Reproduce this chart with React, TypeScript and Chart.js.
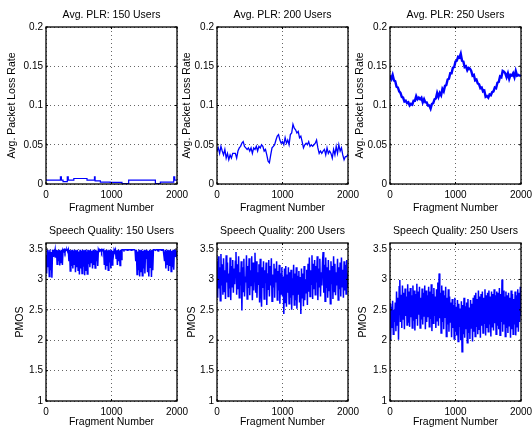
import React, { useEffect, useRef } from 'react';
import { Chart, registerables } from 'chart.js';

Chart.register(...registerables);

// ---------- data ----------
const fragTicks = [0, 1000, 2000];
const plrTicks = [0, 0.05, 0.1, 0.15, 0.2];
const pmosTicks = [1, 1.5, 2, 2.5, 3, 3.5];

const PLR_STEP = 20;
const PMOS_STEP = 10;

const plr150Frag = [0, 220, 235, 260, 325, 340, 425, 626, 740, 750, 830, 980, 1160, 1262, 1670, 1746, 1950, 1965, 2000];
const plr150Val = [0.005, 0.009, 0.005, 0.003, 0.009, 0.005, 0.007, 0.005, 0.009, 0.004, 0.0025, 0.002, 0.0005, 0.005, 0.0005, 0.0025, 0.009, 0.005, 0.005];

const plr200Val = [
  0.042, 0.046, 0.039, 0.048, 0.042, 0.037, 0.044, 0.033, 0.039, 0.031,
  0.037, 0.033, 0.039, 0.039, 0.039, 0.033, 0.042, 0.046, 0.048, 0.052,
  0.054, 0.048, 0.046, 0.044, 0.046, 0.042, 0.046, 0.039, 0.046, 0.044,
  0.048, 0.042, 0.048, 0.046, 0.050, 0.048, 0.042, 0.044, 0.037, 0.029,
  0.027, 0.037, 0.046, 0.048, 0.050, 0.056, 0.061, 0.063, 0.056, 0.052,
  0.054, 0.050, 0.059, 0.052, 0.056, 0.050, 0.063, 0.065, 0.076, 0.071,
  0.069, 0.065, 0.067, 0.059, 0.061, 0.054, 0.046, 0.050, 0.052, 0.050,
  0.054, 0.048, 0.050, 0.048, 0.050, 0.052, 0.056, 0.046, 0.039, 0.042,
  0.039, 0.042, 0.044, 0.037, 0.046, 0.039, 0.042, 0.039, 0.033, 0.044,
  0.037, 0.048, 0.039, 0.050, 0.042, 0.046, 0.037, 0.031, 0.035, 0.035,
  0.038,
];

const plr250Val = [
  0.138, 0.134, 0.139, 0.132, 0.131, 0.124, 0.123, 0.118, 0.116, 0.111,
  0.110, 0.105, 0.106, 0.103, 0.104, 0.100, 0.102, 0.101, 0.106, 0.106,
  0.112, 0.108, 0.110, 0.108, 0.110, 0.104, 0.108, 0.104, 0.104, 0.100,
  0.100, 0.096, 0.102, 0.103, 0.108, 0.109, 0.116, 0.111, 0.116, 0.113,
  0.121, 0.118, 0.125, 0.126, 0.133, 0.134, 0.141, 0.141, 0.148, 0.149,
  0.156, 0.157, 0.162, 0.161, 0.166, 0.157, 0.156, 0.149, 0.150, 0.145,
  0.148, 0.147, 0.144, 0.138, 0.139, 0.132, 0.133, 0.128, 0.127, 0.122,
  0.123, 0.118, 0.119, 0.111, 0.112, 0.110, 0.114, 0.113, 0.117, 0.118,
  0.123, 0.122, 0.129, 0.130, 0.137, 0.136, 0.144, 0.143, 0.141, 0.136,
  0.141, 0.134, 0.139, 0.138, 0.141, 0.136, 0.144, 0.138, 0.139, 0.138,
  0.138,
];

const pmos150Val = [
  3.40, 3.10, 3.49, 3.20, 3.46, 3.05, 3.49, 3.15, 3.45, 3.03, 3.49,
  3.38, 3.49, 3.42, 3.49, 3.36, 3.49,
  3.25, 3.48, 3.30, 3.49, 3.23, 3.47, 3.28, 3.49, 3.24, 3.49,
  3.47, 3.49, 3.45, 3.49, 3.48, 3.49, 3.46, 3.49,
  3.30, 3.49, 3.14, 3.48, 3.22, 3.49, 3.18, 3.47, 3.25, 3.49, 3.12, 3.48, 3.20,
  3.49, 3.15, 3.46, 3.08, 3.49, 3.18, 3.47, 3.10, 3.49, 3.22, 3.48, 3.07, 3.49, 3.14, 3.46, 3.09, 3.49, 3.25,
  3.48, 3.20, 3.49, 3.28, 3.47, 3.18, 3.49, 3.24, 3.48, 3.19, 3.49, 3.30, 3.47, 3.22, 3.49,
  3.46, 3.49, 3.48, 3.49, 3.45, 3.49, 3.48, 3.49,
  3.25, 3.48, 3.16, 3.49, 3.22, 3.47, 3.15, 3.49, 3.28, 3.48, 3.18, 3.49, 3.24, 3.47, 3.40,
  3.49, 3.46, 3.49, 3.35,
  3.48, 3.24, 3.49, 3.30, 3.47, 3.23, 3.49, 3.33, 3.49,
  3.49, 3.49, 3.48, 3.49, 3.49, 3.49, 3.49, 3.48, 3.49, 3.49, 3.49, 3.49, 3.49, 3.48, 3.49, 3.49, 3.49, 3.49, 3.49, 3.48,
  3.30, 3.49, 3.08, 3.46, 3.15, 3.49, 3.05, 3.48, 3.12, 3.49, 3.06, 3.47, 3.18, 3.49, 3.10,
  3.48, 3.35, 3.49,
  3.12, 3.47, 3.05, 3.49, 3.20, 3.48, 3.04, 3.49, 3.15, 3.49,
  3.49, 3.49, 3.48, 3.49, 3.49, 3.49, 3.47, 3.49, 3.49, 3.49, 3.49, 3.48, 3.49, 3.49, 3.49, 3.49,
  3.30, 3.49, 3.18, 3.47, 3.25, 3.49, 3.14, 3.48, 3.22, 3.49, 3.13, 3.47, 3.20, 3.49, 3.16, 3.49,
  3.38, 3.49, 3.40, 3.46,
];

const pmos200Val = [
  3.30, 2.70, 3.38, 2.85, 3.20, 2.65, 3.42, 2.90, 3.25, 2.75,
  3.35, 2.80, 3.15, 2.68, 3.40, 2.95, 3.28, 2.72, 3.10, 2.85,
  3.36, 2.66, 3.22, 2.88, 3.32, 2.78, 3.18, 2.92, 3.30, 3.45,
  2.75, 3.25, 2.84, 3.38, 2.70, 3.12, 2.90, 3.30, 2.49, 3.20,
  2.80, 3.34, 2.72, 3.05, 2.95, 3.40, 2.68, 3.22, 2.86, 3.35,
  2.74, 3.15, 2.90, 3.38, 2.66, 3.28, 2.82, 3.18, 3.44, 2.78,
  3.30, 2.70, 3.12, 2.92, 3.25, 2.62, 3.34, 2.80, 2.55, 3.20,
  2.86, 3.30, 2.68, 3.15, 2.94, 3.28, 2.58, 3.10, 2.84, 3.32,
  2.72, 3.22, 2.90, 3.35, 2.64, 3.08, 2.88, 3.26, 2.70, 3.18,
  2.95, 3.30, 2.66, 3.14, 2.82, 3.24, 2.60, 3.10, 2.76, 3.20,
  2.72, 3.05, 2.43, 3.18, 2.62, 3.22, 2.55, 3.08, 2.78, 3.20,
  2.60, 3.12, 2.70, 3.16, 2.50, 3.02, 2.74, 3.24, 2.58, 3.10,
  2.66, 3.20, 2.52, 3.06, 2.76, 3.14, 2.62, 3.04, 2.43, 3.18,
  2.70, 3.10, 2.56, 3.22, 2.66, 3.00, 2.78, 3.16, 2.58, 3.26,
  2.80, 3.36, 2.72, 3.15, 2.92, 3.40, 2.68, 3.26, 2.84, 3.32,
  2.75, 3.22, 2.95, 3.38, 2.66, 3.18, 2.88, 3.34, 2.72, 3.12,
  2.90, 3.28, 3.45, 2.78, 3.24, 2.64, 3.36, 2.86, 3.20, 2.70,
  3.32, 2.82, 3.15, 2.60, 3.30, 2.92, 3.22, 2.68, 3.38, 2.80,
  3.26, 2.74, 3.12, 2.90, 3.34, 2.66, 3.20, 2.84, 3.28, 2.72,
  3.36, 2.88, 3.16, 2.70, 3.30, 2.82, 3.24, 2.76, 3.32, 2.86,
  3.10,
];

const pmos250Val = [
  2.60, 2.00, 2.55, 2.20, 2.65, 2.10, 2.50, 2.30, 2.62, 2.15,
  2.80, 2.25, 2.70, 2.01, 2.88, 2.99, 2.30, 2.75, 2.20, 2.90,
  2.35, 2.78, 2.18, 2.85, 2.40, 2.72, 2.25, 2.92, 2.30, 2.80,
  2.22, 2.86, 2.38, 2.74, 2.20, 2.90, 2.32, 2.82, 2.16, 2.76,
  2.36, 2.93, 2.24, 2.80, 2.42, 2.88, 2.20, 2.70, 2.34, 2.85,
  2.26, 2.78, 2.40, 2.90, 2.18, 2.82, 2.30, 2.74, 2.38, 2.88,
  2.22, 2.80, 2.35, 2.92, 2.15, 2.76, 2.28, 2.86, 2.40, 2.72,
  2.20, 2.84, 2.32, 2.95, 2.24, 3.10, 2.36, 2.78, 2.12, 2.90,
  2.30, 2.82, 2.18, 2.74, 2.38, 2.88, 2.06, 2.70, 2.26, 2.84,
  2.14, 2.72, 2.30, 2.62, 2.05, 2.68, 2.20, 2.58, 2.02, 2.70,
  2.15, 2.55, 2.08, 2.66, 1.98, 2.60, 2.22, 2.52, 2.00, 2.64,
  1.81, 2.58, 2.10, 2.70, 2.04, 2.56, 2.18, 2.62, 1.96, 2.68,
  2.12, 2.54, 2.02, 2.66, 2.20, 2.60, 1.98, 2.70, 2.14, 2.74,
  2.06, 2.78, 2.22, 2.68, 2.10, 2.82, 2.18, 2.72, 2.04, 2.76,
  2.24, 2.80, 2.12, 2.70, 2.28, 2.84, 2.08, 2.74, 2.20, 2.78,
  2.14, 2.82, 2.26, 2.72, 2.06, 2.80, 2.22, 2.76, 2.16, 2.84,
  2.28, 2.74, 2.10, 2.80, 2.24, 2.78, 2.18, 2.86, 2.08, 2.76,
  2.30, 3.00, 2.14, 2.82, 2.26, 2.72, 2.06, 2.80, 2.20, 2.74,
  2.12, 2.78, 2.24, 2.70, 2.04, 2.82, 2.18, 2.76, 2.10, 2.68,
  2.26, 2.80, 2.08, 2.74, 2.22, 2.84, 2.14, 2.78, 2.30, 2.88,
  2.40,
];

const panelTitles = [
  'Avg. PLR: 150 Users', 'Avg. PLR: 200 Users', 'Avg. PLR: 250 Users',
  'Speech Quality: 150 Users', 'Speech Quality: 200 Users', 'Speech Quality: 250 Users',
];
const yTitles = ['Avg. Packet Loss Rate', 'PMOS'];
const xTitle = 'Fragment Number';

// ---------- layout / style ----------
const FAMILY = '"Liberation Sans", Arial, Helvetica, sans-serif';
const TITLE_SIZE = 10.5;
const TICK_SIZE = 10;
const LH = TITLE_SIZE * 1.2;
const BLUE = '#0000ff';
const GRID = 'rgba(0,0,0,0.6)';
const TICK_LEN = 2;

const canvasLeft = [0, 177, 352];
const canvasWidth = [195, 195, 180];
const canvasTop = [0, 214];
const canvasHeight = 214;
const plotL = [46, 217, 390];
const plotR = [177, 348, 521];
const plotT = [27, 243];
const plotB = [184, 401];
const titleCY = [15.5, 231];
const xTitleCY = [205.5, 422];
const yTitleCX = [[12, 187, 360], [20, 192, 363]];

function seriesPoints(frag: number[] | null, vals: number[], step: number) {
  return vals.map((v, i) => ({ x: frag ? frag[i] : i * step, y: v }));
}

const panels = [
  { row: 0, col: 0, pts: seriesPoints(plr150Frag, plr150Val, 0), stepped: true, bw: 1.2 },
  { row: 0, col: 1, pts: seriesPoints(null, plr200Val, PLR_STEP), stepped: false, bw: 1.3 },
  { row: 0, col: 2, pts: seriesPoints(null, plr250Val, PLR_STEP), stepped: false, bw: 2.4 },
  { row: 1, col: 0, pts: seriesPoints(null, pmos150Val, PMOS_STEP), stepped: false, bw: 1.5 },
  { row: 1, col: 1, pts: seriesPoints(null, pmos200Val, PMOS_STEP), stepped: false, bw: 1.5 },
  { row: 1, col: 2, pts: seriesPoints(null, pmos250Val, PMOS_STEP), stepped: false, bw: 1.5 },
];

const framePlugin = {
  id: 'matlabFrame',
  afterDatasetsDraw(chart: any) {
    const { ctx, chartArea } = chart;
    const { left, top, right, bottom } = chartArea;
    ctx.save();
    ctx.strokeStyle = '#000';
    ctx.lineWidth = 1.3;
    ctx.strokeRect(left, top, right - left, bottom - top);
    ctx.lineWidth = 1;
    ctx.beginPath();
    const xs = chart.scales.x;
    const ys = chart.scales.y;
    xs.ticks.forEach((t: any) => {
      const px = xs.getPixelForValue(t.value);
      ctx.moveTo(px, bottom);
      ctx.lineTo(px, bottom - TICK_LEN);
      ctx.moveTo(px, top);
      ctx.lineTo(px, top + TICK_LEN);
    });
    ys.ticks.forEach((t: any) => {
      const py = ys.getPixelForValue(t.value);
      ctx.moveTo(left, py);
      ctx.lineTo(left + TICK_LEN, py);
      ctx.moveTo(right, py);
      ctx.lineTo(right - TICK_LEN, py);
    });
    ctx.stroke();
    ctx.restore();
  },
};

function Panel({ idx }: { idx: number }) {
  const p = panels[idx];
  const ref = useRef<HTMLCanvasElement>(null);
  const cx = canvasLeft[p.col];
  const cw = canvasWidth[p.col];
  const cy = canvasTop[p.row];
  const ch = canvasHeight;

  useEffect(() => {
    const L = plotL[p.col], R = plotR[p.col], T = plotT[p.row], B = plotB[p.row];
    const yAxisW = L - cx;
    const yTitlePad = Math.max(0, yTitleCX[p.row][p.col] - cx - LH / 2);
    const tPadTop = titleCY[p.row] - cy - LH / 2;
    const tPadBottom = T - cy - LH - tPadTop;
    const xAxisH = cy + ch - B;
    const xTitlePad = Math.max(0, B + xAxisH - xTitleCY[p.row] - LH / 2);
    const isPlr = p.row === 0;
    const yTicks = isPlr ? plrTicks : pmosTicks;
    const tickFont = { family: FAMILY, size: TICK_SIZE };
    const labFont = { family: FAMILY, size: TITLE_SIZE, lineHeight: 1.2 };

    const chart = new Chart(ref.current as HTMLCanvasElement, {
      type: 'line',
      data: {
        datasets: [{
          data: p.pts,
          borderColor: BLUE,
          borderWidth: p.bw,
          pointRadius: 0,
          fill: false,
          tension: 0,
          stepped: p.stepped,
        }],
      },
      options: {
        animation: false,
        responsive: false,
        devicePixelRatio: 1,
        events: [],
        layout: { padding: { left: 0, top: 0, right: cx + cw - R, bottom: 0 } },
        plugins: {
          legend: { display: false },
          tooltip: { enabled: false },
          title: {
            display: true,
            fullSize: false,
            text: panelTitles[idx],
            color: '#000',
            font: { ...labFont, weight: 'normal' },
            padding: { top: tPadTop, bottom: tPadBottom },
          },
        },
        scales: {
          x: {
            type: 'linear',
            min: 0,
            max: 2000,
            afterBuildTicks: (s: any) => { s.ticks = fragTicks.map((v) => ({ value: v })); },
            afterFit: (s: any) => { s.height = xAxisH; s.paddingLeft = 0; s.paddingRight = 0; },
            ticks: { color: '#000', font: tickFont, padding: 5, maxRotation: 0, autoSkip: false, callback: (v: any) => String(v) },
            grid: { color: GRID, lineWidth: 1, drawTicks: false },
            border: { display: false, dash: [1, 3] },
            title: { display: true, text: xTitle, color: '#000', font: labFont, padding: { top: xTitlePad, bottom: 0 } },
          },
          y: {
            type: 'linear',
            min: isPlr ? 0 : 1,
            max: isPlr ? 0.2 : 3.6,
            afterBuildTicks: (s: any) => { s.ticks = yTicks.map((v) => ({ value: v })); },
            afterFit: (s: any) => { s.width = yAxisW; s.paddingTop = 0; s.paddingBottom = 0; },
            ticks: { color: '#000', font: tickFont, padding: 3, autoSkip: false, callback: (v: any) => String(v) },
            grid: { color: GRID, lineWidth: 1, drawTicks: false },
            border: { display: false, dash: [1, 3] },
            title: { display: true, text: yTitles[p.row], color: '#000', font: labFont, padding: { top: yTitlePad, bottom: 0 } },
          },
        },
      },
      plugins: [framePlugin],
    } as any);
    return () => chart.destroy();
  }, []);

  return (
    <canvas
      ref={ref}
      width={cw}
      height={ch}
      style={{ position: 'absolute', left: cx, top: cy, width: cw, height: ch }}
    />
  );
}

export default function App() {
  return (
    <div style={{ position: 'absolute', left: 0, top: 0, width: 532, height: 428, background: '#fff', overflow: 'hidden' }}>
      {panels.map((_, i) => <Panel key={i} idx={i} />)}
    </div>
  );
}
